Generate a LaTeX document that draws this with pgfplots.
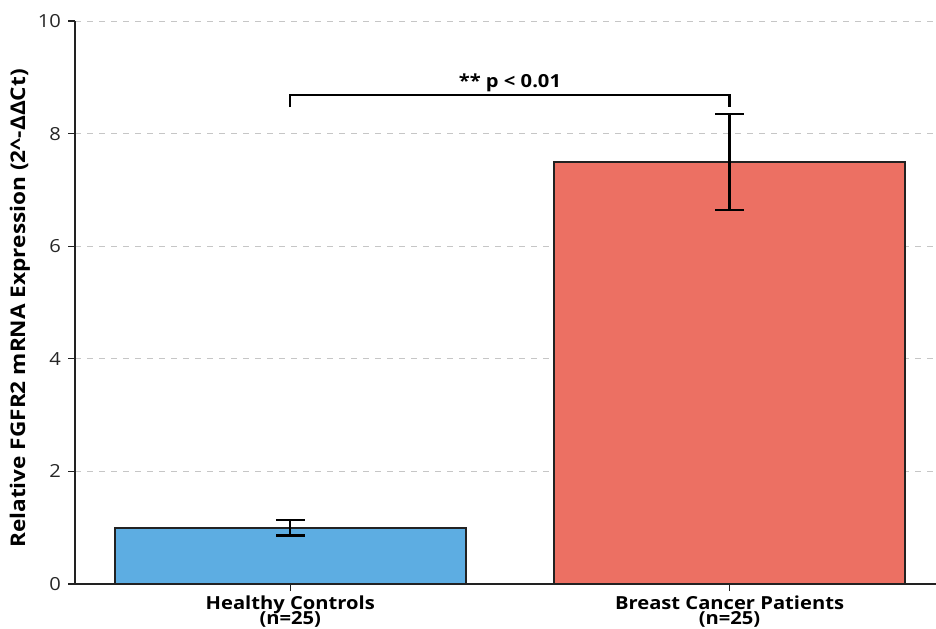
\documentclass[border=0pt]{standalone}
\usepackage{fontspec}
\setmainfont{Open Sans}[FakeStretch=1.12]
\usepackage{pgfplots}
\pgfplotsset{compat=1.18}
\definecolor{hc}{HTML}{5DADE2}
\definecolor{bc}{HTML}{EC7063}
\definecolor{edge}{HTML}{222222}
\begin{document}
\begin{tikzpicture}
\path[use as bounding box] (-37.5pt,-22pt) rectangle (430.5pt,292pt);
\begin{axis}[
  at={(0,0)}, anchor=south west,
  scale only axis, width=430.5pt, height=281.5pt,
  xmin=-0.49, xmax=1.47, ymin=0, ymax=10,
  axis x line*=bottom, axis y line*=left,
  axis line style={edge, line width=0.75pt},
  xtick={0,1},
  xticklabels={{Healthy Controls\\[-3pt](n=25)},{Breast Cancer Patients\\[-3pt](n=25)}},
  xticklabel style={align=center, font=\bfseries\fontsize{9}{10.8}\selectfont, text=black, yshift=1.3pt},
  ytick={0,2,4,6,8,10},
  yticklabel style={font=\fontsize{9}{10}\selectfont, text=black!85},
  /pgf/number format/assume math mode=true,
  tick align=outside, major tick length=3.5pt,
  tick style={edge, line width=0.6pt},
  ymajorgrids, grid style={gray!45, dashed, line width=0.5pt},
  ylabel={Relative FGFR2 mRNA Expression (2\textasciicircum-ΔΔCt)},
  every axis y label/.style={at={(axis description cs:0,0.5)}, rotate=90, anchor=center, yshift=27.5pt, xshift=-3pt, font=\bfseries\fontsize{10.1}{11}\selectfont},
  clip=false,
]
\addplot[ybar, bar width=0.8, fill=hc, draw=edge, line width=1pt,
  error bars/.cd, y dir=both, y explicit,
  error bar style={black, line width=1.1pt},
  error mark options={rotate=90, mark size=7.2pt, line width=1.1pt, black}]
  coordinates {(0,1.0) +- (0,0.14)};
\addplot[ybar, bar width=0.8, fill=bc, draw=edge, line width=1pt,
  error bars/.cd, y dir=both, y explicit,
  error bar style={black, line width=1.1pt},
  error mark options={rotate=90, mark size=7.2pt, line width=1.1pt, black}]
  coordinates {(1,7.5) +- (0,0.85)};
\addplot[black, line width=1.1pt, mark=none] coordinates {(0,8.47) (0,8.69) (1,8.69) (1,8.47)};
\node[font=\bfseries\fontsize{9}{10}\selectfont, anchor=south, inner sep=1.5pt] at (axis cs:0.5,8.69) {** p < 0.01};
\end{axis}
\end{tikzpicture}
\end{document}
